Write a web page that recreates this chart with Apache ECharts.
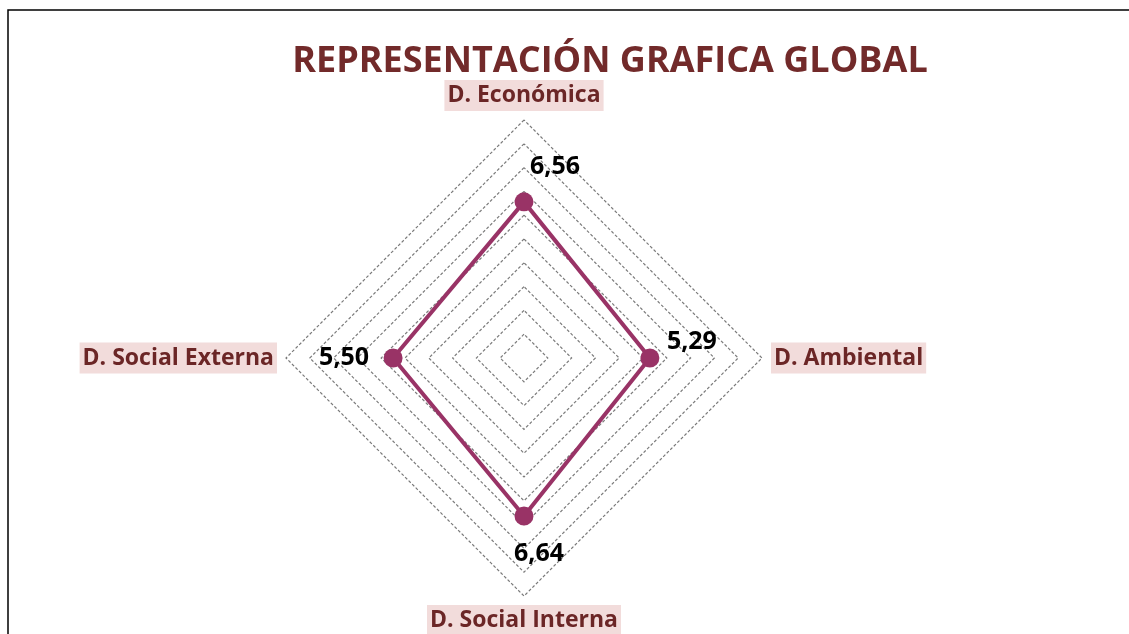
<!DOCTYPE html>
<html>
<head>
<meta charset="utf-8">
<script src="https://cdn.jsdelivr.net/npm/echarts@6/dist/echarts.min.js"></script>
<style>
  html, body { margin: 0; padding: 0; background: #fff; }
  #chart { width: 1129px; height: 634px; }
</style>
</head>
<body>
<div id="chart"></div>
<script>
// radar order (ECharts goes counter-clockwise from top)
var dimensions = ['D. Económica', 'D. Social Externa', 'D. Social Interna', 'D. Ambiental'];
var scores = [6.56, 5.50, 6.64, 5.29];
var maxScore = 10;
var chartTitle = 'REPRESENTACIÓN GRAFICA GLOBAL';

// where each value label sits relative to its point
var labelOffsets = [[31, -35], [-49, 0], [15, 38], [42, -16]];

var chart = echarts.init(document.getElementById('chart'));

var fmt = function (v) { return v.toFixed(2).replace('.', ','); };

var labelSeries = dimensions.map(function (d, i) {
    return {
        type: 'radar',
        silent: true,
        symbol: 'circle',
        symbolSize: 1,
        itemStyle: { color: 'transparent' },
        lineStyle: { opacity: 0 },
        label: {
            show: true,
            position: 'inside',
            offset: labelOffsets[i],
            color: '#000',
            fontFamily: 'Open Sans',
            fontWeight: 'bold',
            fontSize: 25,
            formatter: function (p) {
                return p.dimensionIndex === i ? fmt(scores[i]) : '';
            }
        },
        data: [{ value: scores }]
    };
});

var option = {
    backgroundColor: '#fff',
    animation: false,
    graphic: [
        {
            type: 'rect',
            shape: { x: 8, y: 10, width: 1200, height: 700 },
            style: { fill: 'none', stroke: '#000', lineWidth: 1.5 }
        },
        {
            type: 'text',
            x: 610,
            y: 62,
            style: {
                text: chartTitle,
                align: 'center',
                verticalAlign: 'middle',
                fill: '#722a2a',
                font: 'bold 36px "Open Sans"'
            }
        }
    ],
    radar: {
        center: [524, 358],
        radius: 238,
        shape: 'polygon',
        splitNumber: 10,
        nameGap: 9,
        indicator: dimensions.map(function (d) { return { name: d, max: maxScore, min: 0 }; }),
        axisName: {
            color: '#6b2626',
            backgroundColor: '#f2dcdb',
            fontFamily: 'Open Sans',
            fontWeight: 'bold',
            fontSize: 23,
            padding: [4, 3]
        },
        axisLine: { show: false },
        axisTick: { show: false },
        axisLabel: { show: false },
        splitArea: { show: false },
        splitLine: {
            lineStyle: { color: '#7a7a7a', width: 1.2, type: [3, 2] }
        }
    },
    series: [
        {
            type: 'radar',
            symbol: 'circle',
            symbolSize: 19,
            itemStyle: { color: '#993366' },
            lineStyle: { color: '#993366', width: 4 },
            data: [{ value: scores, name: 'Global' }]
        }
    ].concat(labelSeries)
};

chart.setOption(option);
</script>
</body>
</html>
